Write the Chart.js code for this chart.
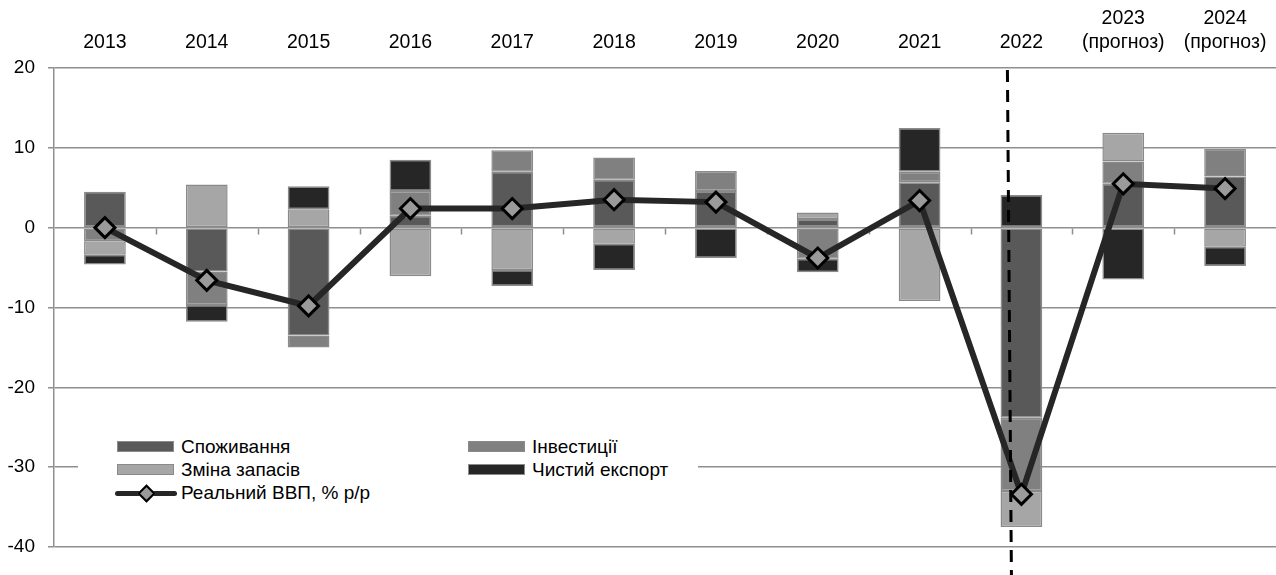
<!DOCTYPE html>
<html>
<head>
<meta charset="utf-8">
<script src="https://cdn.jsdelivr.net/npm/chart.js@4.4.1/dist/chart.umd.min.js"></script>
<style>
  html, body { margin: 0; padding: 0; background: #fff; }
  #wrap { position: relative; width: 1276px; height: 575px; font-family: "Liberation Sans", Arial, sans-serif; }
  #legend { position: absolute; left: 78px; top: 428px; width: 620px; height: 82px; background: #fff; }
  .item { position: absolute; font-size: 19px; color: #000; line-height: 22px; white-space: nowrap; }
  .box { position: absolute; width: 55px; height: 9px; border: 1.5px solid #8a8a8a; }
  .lbl { position: absolute; }
</style>
</head>
<body>
<div id="wrap">
  <canvas id="c" width="1276" height="575"></canvas>
  <div id="legend"></div>
</div>
<script>
const categories = ['2013','2014','2015','2016','2017','2018','2019','2020','2021','2022',['2023','(прогноз)'],['2024','(прогноз)']];
const consumption = [4.5, -5.5, -13.5, 1.5, 7.0, 6.0, 4.6, 1.1, 5.7, -23.8, 5.5, 6.4];
const investment  = [-1.7, -4.2, -1.5, 3.1, 2.7, 2.8, 2.5, -3.9, 1.3, -9.2, 2.8, 3.5];
const inventory   = [-1.7, 5.4, 2.3, -6.1, -5.3, -2.0, null, 0.8, -9.2, -4.5, 3.6, -2.4];
const netExport   = [-1.2, -2.1, 2.9, 3.9, -2.0, -3.3, -3.8, -1.7, 5.5, 4.1, -6.5, -2.4];
const realGDP     = [0, -6.6, -9.8, 2.4, 2.4, 3.5, 3.2, -3.8, 3.4, -33.4, 5.5, 4.9];
const seriesNames = ['Споживання', 'Інвестиції', 'Зміна запасів', 'Чистий експорт', 'Реальний ВВП, % р/р'];
const yTicks = [20, 10, 0, -10, -20, -30, -40];

const colors = ['#595959', '#808080', '#a6a6a6', '#262626'];
const FONT = "'Liberation Sans', Arial, sans-serif";
const gridGray = '#8f8f8f';

function barDs(label, data, color) {
  return {
    type: 'bar', label, data, backgroundColor: color, borderColor: '#8a8a8a',
    borderWidth: 1.5, borderSkipped: false, stack: 's', order: 2,
    barPercentage: 0.41, categoryPercentage: 1.0
  };
}

const zeroTicksPlugin = {
  id: 'zeroTicks',
  beforeDatasetsDraw(chart) {
    const xs = chart.scales.x, ys = chart.scales.y;
    const y0 = Math.round(ys.getPixelForValue(0)) + 0.5;
    const n = categories.length;
    const ctx = chart.ctx;
    ctx.save();
    ctx.strokeStyle = gridGray;
    ctx.lineWidth = 1.5;
    ctx.beginPath();
    for (let i = 1; i < n; i++) {
      const x = Math.round((xs.getPixelForValue(i - 1) + xs.getPixelForValue(i)) / 2) + 0.5;
      ctx.moveTo(x, y0);
      ctx.lineTo(x, y0 + 6);
    }
    ctx.stroke();
    ctx.restore();
  }
};

const dashPlugin = {
  id: 'dash2022',
  afterDatasetsDraw(chart) {
    const xs = chart.scales.x;
    const cx = xs.getPixelForValue(9);
    const ctx = chart.ctx;
    ctx.save();
    ctx.strokeStyle = '#000';
    ctx.lineWidth = 3;
    ctx.setLineDash([12, 8]);
    ctx.beginPath();
    ctx.moveTo(cx - 14, chart.chartArea.top + 2);
    ctx.lineTo(cx - 10, chart.height);
    ctx.stroke();
    ctx.restore();
  }
};

new Chart(document.getElementById('c'), {
  data: {
    labels: categories,
    datasets: [
      barDs(seriesNames[0], consumption, colors[0]),
      barDs(seriesNames[1], investment, colors[1]),
      barDs(seriesNames[2], inventory, colors[2]),
      barDs(seriesNames[3], netExport, colors[3]),
      {
        type: 'line', label: seriesNames[4], data: realGDP, stack: 'gdp', order: 0,
        borderColor: '#262626', borderWidth: 6, tension: 0,
        pointStyle: 'rectRot', pointRadius: 10, pointBorderWidth: 3,
        pointBorderColor: '#000', pointBackgroundColor: '#9a9a9a'
      }
    ]
  },
  options: {
    responsive: false,
    devicePixelRatio: 1,
    animation: false,
    layout: { autoPadding: false, padding: { top: 0, right: 0, bottom: 28, left: 0 } },
    plugins: { legend: { display: false }, tooltip: { enabled: false } },
    scales: {
      x: {
        type: 'category', position: 'top', stacked: true, offset: true,
        grid: { display: false, drawTicks: false },
        border: { display: false },
        ticks: { autoSkip: false, maxRotation: 0, padding: 14, color: '#000',
                 font: { family: FONT, size: 19.5, lineHeight: 1.2 } },
        afterFit(s) { s.height = 68; s.paddingLeft = 0; s.paddingRight = 0; }
      },
      y: {
        type: 'linear', stacked: true, min: -40, max: 20,
        afterBuildTicks(s) { s.ticks = yTicks.map(v => ({ value: v })); },
        grid: { color: gridGray, lineWidth: 1.5, tickLength: 6 },
        border: { display: true, color: gridGray, width: 1.5 },
        ticks: { padding: 13, color: '#000', font: { family: FONT, size: 19 } },
        afterFit(s) { s.width = 54; s.paddingTop = 0; s.paddingBottom = 0; }
      }
    }
  },
  plugins: [zeroTicksPlugin, dashPlugin]
});

// HTML legend (real text)
const legend = document.getElementById('legend');
const pos = [
  { left: 39, top: 8 }, { left: 390, top: 8 },
  { left: 39, top: 31 }, { left: 390, top: 31 },
  { left: 37, top: 54 }
];
seriesNames.forEach((name, i) => {
  const it = document.createElement('div');
  it.className = 'item';
  it.style.left = pos[i].left + 'px';
  it.style.top = pos[i].top + 'px';
  if (i < 4) {
    const b = document.createElement('div');
    b.className = 'box';
    b.style.background = colors[i];
    b.style.left = '0px'; b.style.top = '5px';
    it.appendChild(b);
    const t = document.createElement('span');
    t.className = 'lbl'; t.style.left = '64px'; t.style.top = '0px';
    t.textContent = name;
    it.appendChild(t);
  } else {
    const ln = document.createElement('div');
    ln.style.cssText = 'position:absolute;left:0;top:9px;width:62px;height:5px;background:#262626;border-radius:3px;';
    it.appendChild(ln);
    const d = document.createElement('div');
    d.style.cssText = 'position:absolute;left:25px;top:5px;width:9px;height:9px;background:#9a9a9a;border:2.5px solid #000;transform:rotate(45deg);';
    it.appendChild(d);
    const t = document.createElement('span');
    t.className = 'lbl'; t.style.left = '66px'; t.style.top = '0px';
    t.textContent = name;
    it.appendChild(t);
  }
  legend.appendChild(it);
});
</script>
</body>
</html>
